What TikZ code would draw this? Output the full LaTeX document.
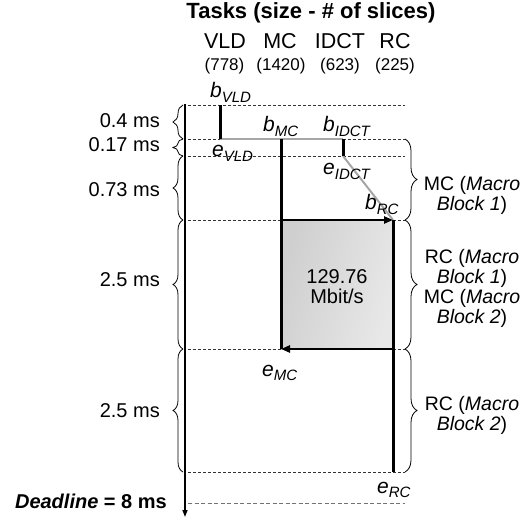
\documentclass[tikz,border=0pt]{standalone}
\usepackage{fontspec}
\setmainfont{Liberation Sans}
\usetikzlibrary{arrows.meta,decorations.pathreplacing}
\newcommand\fsz[1]{\fontsize{#1}{#1}\selectfont}
\newcommand\bel[2]{\textit{#1}\raisebox{-4.5pt}{\fsz{15}\textit{#2}}}
\begin{document}
\begin{tikzpicture}[x=1pt,y=-1pt,
  txt/.style={inner sep=0pt, font=\fsz{20}},
  lbl/.style={inner sep=0pt, font=\fsz{21}},
  rlab/.style={inner sep=0pt, align=center, font=\fontsize{19.5}{20}\selectfont},
  dashline/.style={dash pattern=on 3pt off 2pt, line width=0.8pt, black!80},
  bar/.style={line width=3pt, black},
  link/.style={line width=2pt, black!35},
  harrow/.style={line width=2.5pt, black, -{Triangle[length=9pt,width=7pt]}},
  bracel/.style={decorate, decoration={brace, amplitude=10pt}, line width=0.8pt},
  bracer/.style={decorate, decoration={brace, amplitude=12pt}, line width=0.8pt}]
\useasboundingbox (0,0) rectangle (524,518);

% title and tasks
\node[inner sep=0pt, anchor=base, font=\fsz{22}\bfseries] (title) at (311,19) {Tasks (size - \# of slices)};
\node[inner sep=0pt, anchor=base, font=\fsz{21.5}] (tv) at (225,49) {VLD};
\node[inner sep=0pt, anchor=base, font=\fsz{21.5}] (tm) at (280,49) {MC};
\node[inner sep=0pt, anchor=base, font=\fsz{21.5}] (ti) at (340,49) {IDCT};
\node[inner sep=0pt, anchor=base, font=\fsz{21.5}] (tr) at (395,49) {RC};
\node[inner sep=0pt, anchor=base, font=\fsz{17}] (sv) at (224.5,71) {(778)};
\node[inner sep=0pt, anchor=base, font=\fsz{17}] (sm) at (281,71) {(1420)};
\node[inner sep=0pt, anchor=base, font=\fsz{17}] (si) at (340,71) {(623)};
\node[inner sep=0pt, anchor=base, font=\fsz{17}] (sr) at (395,71) {(225)};

% grid coordinates
\foreach \n/\y in {0/105,1/139,2/156,3/220,4/349,5/472,6/503}{
  \coordinate (L\n) at (188,\y);
  \coordinate (R\n) at (405,\y);
  \coordinate (B\n) at (183,\y);
}
\coordinate (mc3) at (281,220);
\coordinate (mc4) at (281,349);
\coordinate (rc3) at (393,220);
\coordinate (rc4) at (393,349);
\coordinate (rc5) at (393,472);
\coordinate (vl0) at (220,105);
\coordinate (vl1) at (220,139);
\coordinate (mc1) at (281,139);
\coordinate (id1) at (343,139);
\coordinate (id2) at (343,156);
\coordinate (ax0) at (185,104);
\coordinate (ax1) at (185,517);

\fill[left color=black!19, right color=black!9, shading angle=75] (mc3) rectangle (rc4);

% dashed lines
\foreach \n in {0,...,5}{ \draw[dashline] (L\n) -- (R\n); }
\draw[dashline, black!55, dash pattern=on 4pt off 2.5pt] (L6) -- (R6);

% axis
\draw[line width=1.5pt, -{Triangle[length=7pt,width=5pt]}] (ax0) -- (ax1);

% tasks
\draw[link] (vl1) -- (id1);
\draw[link] (id2) -- (rc3);
\draw[bar] (vl0) -- (vl1);
\draw[bar] (mc1) -- (mc4);
\draw[bar] (id1) -- (id2);
\draw[bar] (rc3) -- (rc5);
\draw[harrow] (mc3) -- (rc3);
\draw[harrow] (rc4) -- (mc4);

\node[txt, align=center] (rate) at (337,287) {129.76\\Mbit/s};

% point labels
\node[lbl, anchor=base west] (bvld) at (210,98) {\bel{b}{VLD}};
\node[lbl, anchor=base west] (evld) at (212,157) {\bel{e}{VLD}};
\node[lbl, anchor=base west] (bmc) at (263,132) {\bel{b}{MC}};
\node[lbl, anchor=base west] (bidct) at (323,132) {\bel{b}{IDCT}};
\node[lbl, anchor=base west] (eidct) at (323,175) {\bel{e}{IDCT}};
\node[lbl, anchor=base west] (brc) at (365,210) {\bel{b}{RC}};
\node[lbl, anchor=base west] (emc) at (262,376) {\bel{e}{MC}};
\node[lbl, anchor=base west] (erc) at (377,493) {\bel{e}{RC}};

% left braces
\draw[bracel] (B1) -- (B0);
\draw[bracel] (B2) -- (B1);
\draw[bracel] (B3) -- (B2);
\draw[bracel] (B4) -- (B3);
\draw[bracel] (B5) -- (B4);
\node[txt, anchor=base east] (d1) at (160,128) {0.4 ms};
\node[txt, anchor=base east] (d2) at (160,152) {0.17 ms};
\node[txt, anchor=base east] (d3) at (160,197) {0.73 ms};
\node[txt, anchor=base east] (d4) at (160,287) {2.5 ms};
\node[txt, anchor=base east] (d5) at (160,417) {2.5 ms};
\node[txt, anchor=base east, font=\fsz{20}\bfseries] (dl) at (167,508) {\textit{Deadline} = 8 ms};

% right braces
\draw[bracer] (R1) -- (R3);
\draw[bracer] (R3) -- (R4);
\draw[bracer] (R4) -- (R5);
\node[rlab] (m1) at (472,195) {MC (\textit{Macro}\\\textit{Block 1})};
\node[rlab] (m2) at (472,288) {RC (\textit{Macro}\\\textit{Block 1})\\MC (\textit{Macro}\\\textit{Block 2})};
\node[rlab] (m3) at (472,415) {RC (\textit{Macro}\\\textit{Block 2})};
\end{tikzpicture}
\end{document}
